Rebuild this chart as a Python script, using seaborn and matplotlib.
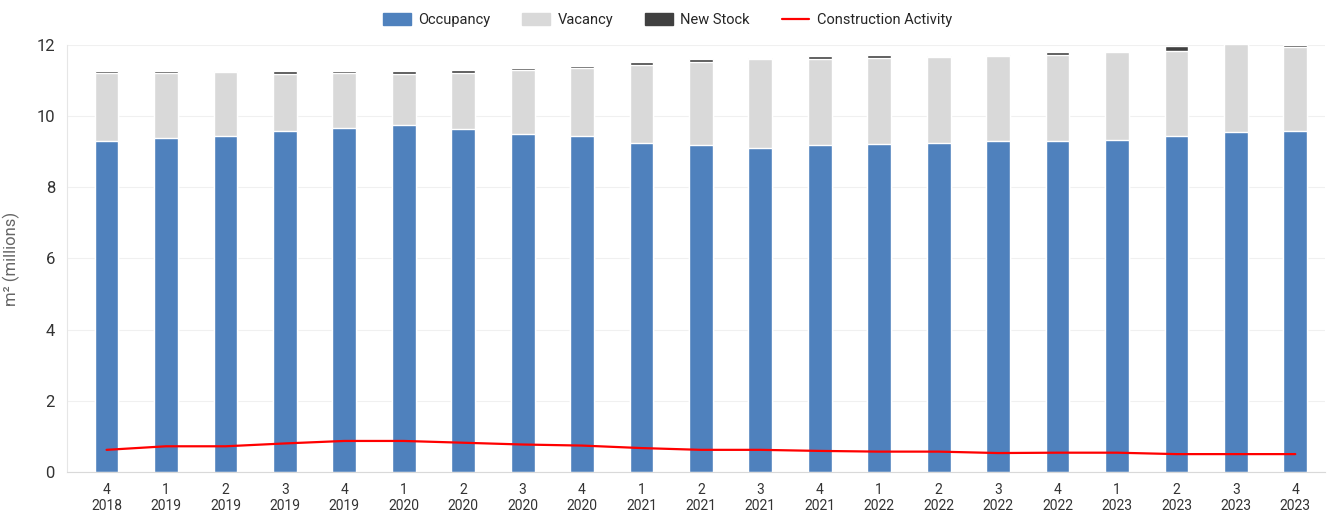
import numpy as np
import matplotlib
matplotlib.use("Agg")
import matplotlib.pyplot as plt
import seaborn as sns
from matplotlib.patches import Patch
from matplotlib.lines import Line2D

quarters = ["4", "1", "2", "3", "4", "1", "2", "3", "4", "1", "2",
            "3", "4", "1", "2", "3", "4", "1", "2", "3", "4"]
years = ["2018", "2019", "2019", "2019", "2019", "2020", "2020", "2020", "2020",
         "2021", "2021", "2021", "2021", "2022", "2022", "2022", "2022",
         "2023", "2023", "2023", "2023"]

occupancy = [9.30, 9.38, 9.44, 9.57, 9.66, 9.74, 9.64, 9.50, 9.44, 9.25, 9.18,
             9.12, 9.18, 9.23, 9.26, 9.30, 9.30, 9.33, 9.44, 9.55, 9.57]
vacancy = [1.92, 1.84, 1.80, 1.63, 1.56, 1.44, 1.58, 1.80, 1.91, 2.18, 2.34,
           2.48, 2.44, 2.42, 2.41, 2.38, 2.42, 2.47, 2.38, 2.47, 2.38]
new_stock = [0.05, 0.05, 0.03, 0.07, 0.04, 0.08, 0.08, 0.06, 0.07, 0.09, 0.09,
             0.05, 0.07, 0.06, 0.03, 0.05, 0.08, 0.00, 0.15, 0.00, 0.06]
construction = [0.62, 0.72, 0.72, 0.80, 0.87, 0.87, 0.82, 0.77, 0.74, 0.67, 0.62,
                0.62, 0.59, 0.57, 0.57, 0.53, 0.54, 0.54, 0.50, 0.50, 0.50]

labels = [f"{q}\n{y}" for q, y in zip(quarters, years)]

c_occ = "#4F81BD"
c_vac = "#D9D9D9"
c_new = "#404040"
c_line = "#FF0000"

sns.set_style("white")
plt.rcParams["font.family"] = ["Roboto", "DejaVu Sans"]

fig = plt.figure(figsize=(13.35, 5.18), dpi=100)
ax = fig.add_axes([0.050, 0.089, 0.9425, 0.824])

occ = np.array(occupancy)
vac_top = occ + np.array(vacancy)
total = vac_top + np.array(new_stock)

# stacked bars drawn back to front
sns.barplot(x=labels, y=total, color=c_new, width=0.4, saturation=1, ax=ax, zorder=2)
sns.barplot(x=labels, y=vac_top, color=c_vac, width=0.4, saturation=1, ax=ax, zorder=2)
sns.barplot(x=labels, y=occ, color=c_occ, width=0.4, saturation=1, ax=ax, zorder=2)

sns.lineplot(x=np.arange(len(labels)), y=construction, color=c_line, lw=1.6, ax=ax, zorder=3)

ax.set_ylim(0, 12)
ax.set_xlim(-0.67, len(labels) - 0.58)
ax.set_yticks(range(0, 13, 2))
ax.grid(axis="y", color="#F0F0F0", lw=0.8, zorder=0)
ax.set_axisbelow(True)

for s in ["top", "right"]:
    ax.spines[s].set_visible(False)
ax.spines["left"].set_color("#E6E6E6")
ax.spines["bottom"].set_color("#D9D9D9")

ax.tick_params(axis="x", length=0, labelsize=10, colors="#333333", pad=8)
ax.tick_params(axis="y", length=5, color="#E0E0E0", labelsize=12, colors="#333333")
ax.set_xticks(np.arange(len(labels) + 1) - 0.5, minor=True)
ax.tick_params(axis="x", which="minor", length=6, color="#D9D9D9")

ax.set_ylabel("m² (millions)", fontsize=12, color="#666666", labelpad=12)
ax.set_xlabel("")

handles = [Patch(color=c_occ), Patch(color=c_vac), Patch(color=c_new),
           Line2D([0], [0], color=c_line, lw=1.6)]
names = ["Occupancy", "Vacancy", "New Stock", "Construction Activity"]
fig.legend(handles, names, loc="upper center", bbox_to_anchor=(0.5, 1.0), ncol=4,
           frameon=False, fontsize=10.5, handlelength=1.9, handleheight=0.8,
           columnspacing=2.2, handletextpad=0.5)

fig.savefig("out.png", dpi=100)
